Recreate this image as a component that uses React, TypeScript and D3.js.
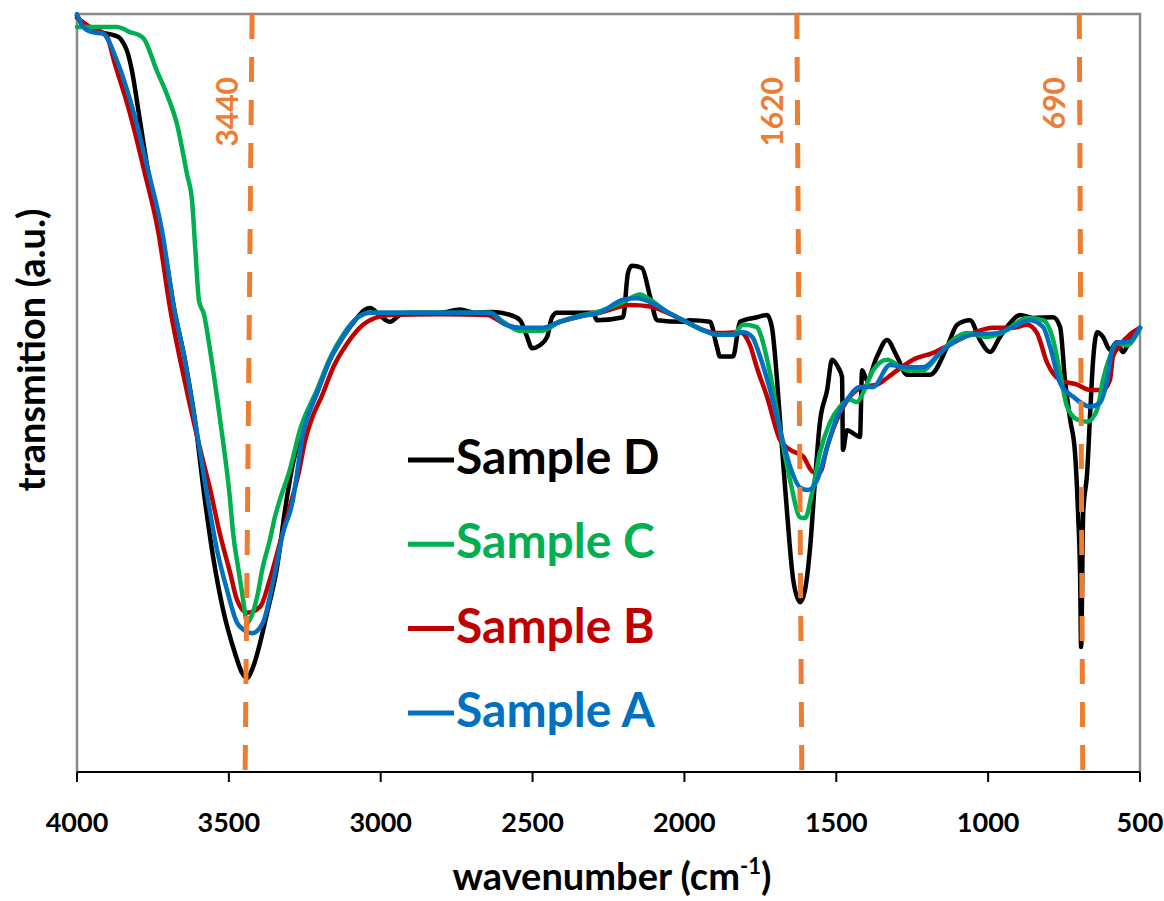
import React from 'react';
import * as d3 from 'd3';

type Pt = [number, number];

const xTicks = [4000, 3500, 3000, 2500, 2000, 1500, 1000, 500];
const peakPositions = [3440, 1620, 690];
const peakLabels = ['3440', '1620', '690'];

const sampleD: Pt[] = [[4000,99.8],[3967,97.9],[3914,97.5],[3865,97.0],[3845,96.0],[3835,95.1],[3819,92.5],[3796,86.8],[3770,80.2],[3737,73.6],[3704,67.0],[3681,61.3],[3645,54.4],[3612,46.5],[3579,35.9],[3552,28.4],[3519,21.4],[3480,15.7],[3457,13.1],[3440,12.4],[3420,13.9],[3374,21.0],[3341,27.1],[3315,34.6],[3290,40.5],[3259,45.1],[3210,50.0],[3167,54.4],[3124,57.4],[3078,59.9],[3052,61.0],[3035,61.2],[3002,60.2],[2969,59.4],[2937,60.3],[2904,60.6],[2805,60.6],[2739,61.0],[2690,60.6],[2630,60.7],[2574,60.3],[2541,59.6],[2518,57.4],[2502,55.9],[2476,56.3],[2452,57.4],[2436,60.0],[2420,60.6],[2301,60.6],[2288,59.6],[2202,60.0],[2186,65.8],[2173,66.8],[2140,66.5],[2113,62.7],[2090,59.6],[2005,59.4],[1982,59.6],[1916,59.4],[1893,56.1],[1883,54.8],[1840,54.8],[1817,59.4],[1761,60.0],[1728,60.3],[1712,58.7],[1695,51.7],[1679,42.9],[1662,34.2],[1642,25.4],[1619,22.4],[1603,24.0],[1586,29.7],[1570,38.5],[1554,46.1],[1530,50.4],[1514,54.4],[1494,53.4],[1481,52.1],[1478,42.5],[1465,45.1],[1445,44.7],[1422,44.2],[1415,53.0],[1399,51.7],[1366,54.8],[1333,57.0],[1300,54.8],[1267,52.4],[1191,52.4],[1135,56.1],[1102,59.0],[1060,59.6],[1027,57.0],[994,55.4],[961,57.4],[928,59.2],[895,60.3],[852,59.9],[786,60.0],[763,58.7],[747,51.7],[730,46.5],[714,42.1],[704,34.2],[697,25.4],[694,16.5],[687,34.2],[674,39.5],[664,47.4],[655,54.0],[641,58.0],[622,57.4],[599,55.7],[576,56.7],[556,55.4],[533,57.0],[500,58.6]];

const sampleC: Pt[] = [[4000,98.3],[3868,98.3],[3845,98.0],[3825,97.6],[3800,97.3],[3779,96.7],[3737,92.5],[3704,89.4],[3671,85.5],[3638,78.9],[3621,75.3],[3611,69.3],[3598,62.1],[3582,60.4],[3562,55.7],[3529,46.5],[3496,35.9],[3486,31.5],[3470,27.1],[3453,22.7],[3440,19.7],[3424,20.7],[3407,23.1],[3388,27.1],[3365,30.6],[3348,33.7],[3332,35.9],[3299,39.9],[3266,45.1],[3210,50.4],[3167,54.6],[3124,57.7],[3078,59.9],[3035,60.6],[2800,60.6],[2640,60.6],[2597,59.4],[2541,58.2],[2470,58.2],[2410,59.4],[2334,60.3],[2278,60.8],[2202,62.0],[2146,63.0],[2113,62.3],[2057,60.7],[2005,59.6],[1939,58.3],[1893,57.7],[1840,57.7],[1807,59.0],[1761,58.7],[1751,57.9],[1718,52.6],[1685,45.1],[1652,38.5],[1619,33.6],[1603,33.5],[1580,36.8],[1554,42.1],[1521,46.1],[1488,48.2],[1455,49.1],[1432,48.8],[1412,50.0],[1379,53.0],[1333,54.4],[1267,53.0],[1214,53.0],[1168,54.8],[1116,57.0],[1070,57.9],[1004,57.4],[951,58.0],[872,59.9],[819,59.6],[786,57.0],[763,52.6],[740,48.2],[707,46.5],[674,46.2],[641,47.8],[622,51.7],[599,54.8],[576,56.6],[543,56.3],[500,58.6]];

const sampleB: Pt[] = [[4000,99.5],[3957,98.3],[3911,97.4],[3901,97.0],[3878,93.8],[3825,86.8],[3776,78.9],[3733,71.4],[3694,61.3],[3645,51.5],[3600,43.5],[3560,37.0],[3530,31.5],[3496,26.3],[3473,22.7],[3440,21.0],[3397,21.8],[3365,25.4],[3332,30.2],[3299,35.0],[3270,39.5],[3250,43.5],[3225,46.8],[3195,49.5],[3155,53.5],[3111,56.5],[3058,59.0],[3002,60.1],[2969,60.3],[2800,60.4],[2650,60.3],[2597,59.2],[2541,58.5],[2470,58.5],[2410,59.4],[2334,60.2],[2278,60.6],[2179,61.6],[2113,61.4],[2057,60.6],[2005,59.6],[1939,58.3],[1893,57.9],[1817,58.0],[1784,56.3],[1761,53.3],[1728,49.5],[1685,43.8],[1652,42.5],[1609,41.6],[1577,39.6],[1554,39.5],[1530,42.9],[1498,46.5],[1455,49.5],[1412,50.8],[1366,51.1],[1313,52.6],[1247,54.4],[1181,55.3],[1116,56.6],[1050,57.9],[984,58.6],[918,58.6],[872,59.0],[839,57.9],[806,54.0],[763,51.7],[707,51.1],[664,50.4],[622,50.4],[599,51.7],[589,54.8],[566,56.3],[500,58.6]];

const sampleA: Pt[] = [[4000,100],[3980,98.3],[3950,97.6],[3915,97.4],[3868,93.8],[3812,86.8],[3763,78.9],[3720,71.4],[3681,61.3],[3645,54.4],[3612,46.5],[3569,35.9],[3539,29.3],[3506,24.0],[3473,19.7],[3440,18.5],[3424,18.3],[3388,19.7],[3355,25.0],[3322,31.5],[3289,35.9],[3270,41.0],[3259,44.0],[3235,47.5],[3210,50.0],[3167,54.4],[3124,57.4],[3078,59.9],[3035,60.6],[2800,60.6],[2640,60.6],[2597,59.2],[2541,58.6],[2466,58.6],[2410,59.4],[2334,60.2],[2278,60.6],[2202,62.3],[2156,62.5],[2113,62.0],[2057,60.7],[2005,59.6],[1939,58.3],[1893,57.7],[1840,57.7],[1807,58.0],[1777,57.4],[1751,54.8],[1718,50.4],[1685,45.1],[1652,40.3],[1619,37.5],[1593,37.2],[1563,38.5],[1530,42.9],[1498,46.8],[1465,49.1],[1422,50.8],[1379,50.8],[1323,53.7],[1267,53.4],[1214,53.4],[1158,55.3],[1116,56.6],[1050,57.7],[971,57.9],[918,58.7],[862,59.6],[819,58.7],[796,56.1],[763,51.3],[720,49.5],[664,48.2],[632,48.7],[608,51.7],[589,56.1],[566,56.7],[543,56.7],[500,58.6]];

const legendNames = ['Sample D', 'Sample C', 'Sample B', 'Sample A'];
const legendColors = ['#000000', '#00B050', '#C00000', '#0070C0'];

const FONT = 'Lato, "Open Sans", sans-serif';

export default function App() {
  const x = d3.scaleLinear().domain([4000, 500]).range([77, 1140]);
  const y = d3.scaleLinear().domain([0, 100]).range([772, 14]);
  const line = d3.line<Pt>().x(d => x(d[0])).y(d => y(d[1])).curve(d3.curveMonotoneX);

  const drawn = [
    { data: sampleD, color: legendColors[0] },
    { data: sampleB, color: legendColors[2] },
    { data: sampleC, color: legendColors[1] },
    { data: sampleA, color: legendColors[3] },
  ];

  const [x0, x1] = x.range();
  const [yb, yt] = y.range();
  // hand-drawn marker lines lean slightly (pixel offsets at top / bottom)
  const lean: [number, number][] = [[5, -2], [-3, 2], [-3, 0.5]];

  return (
    <svg width={1164} height={901} style={{ position: 'absolute', left: 0, top: 0, display: 'block', background: '#fff' }} fontFamily={FONT}>
      <rect x={0} y={0} width={1164} height={901} fill="#fff" />
      <path d={`M${x0},${yb} L${x0},${yt} L${x1},${yt} L${x1},${yb}`} fill="none" stroke="#898989" strokeWidth={2.5} />
      {drawn.map((s, i) => (
        <path key={i} d={line(s.data) || ''} fill="none" stroke={s.color} strokeWidth={4.5} strokeLinejoin="round" strokeLinecap="round" />
      ))}
      <line x1={x0} x2={x1} y1={yb} y2={yb} stroke="#000" strokeWidth={2} />
      {xTicks.map(t => (
        <g key={t}>
          <line x1={x(t)} x2={x(t)} y1={yb} y2={yb + 10} stroke="#000" strokeWidth={2} />
          <text x={x(t)} y={832} textAnchor="middle" fontSize={27} fontWeight={700} fill="#000">{t}</text>
        </g>
      ))}
      {peakPositions.map((p, i) => {
        const xt = x(p) + lean[i][0];
        const xb = x(p) + lean[i][1];
        return (
          <g key={p}>
            <line x1={xt} x2={xb} y1={yt} y2={yb + 6} stroke="#ED7D31" strokeWidth={5} strokeDasharray="25 18" />
            <text transform={`translate(${xt - 14},77) rotate(-90)`} textAnchor="end" fontSize={30} fontWeight={700} fill="#ED7D31">{peakLabels[i]}</text>
          </g>
        );
      })}
      {legendNames.map((n, i) => (
        <g key={n}>
          <line x1={408} x2={454} y1={460 + i * 84.3} y2={460 + i * 84.3} stroke={legendColors[i]} strokeWidth={5} />
          <text x={456} y={474 + i * 84.3} fontSize={48} fontWeight={700} fill={legendColors[i]}>{n}</text>
        </g>
      ))}
      <text x={612} y={890} textAnchor="middle" fontSize={38} fontWeight={700} fill="#000">
        wavenumber (cm<tspan fontSize={22} dy={-16}>-1</tspan><tspan dy={16}>)</tspan>
      </text>
      <text transform="translate(45,350) rotate(-90)" textAnchor="middle" fontSize={38} fontWeight={700} fill="#000">transmition (a.u.)</text>
    </svg>
  );
}
